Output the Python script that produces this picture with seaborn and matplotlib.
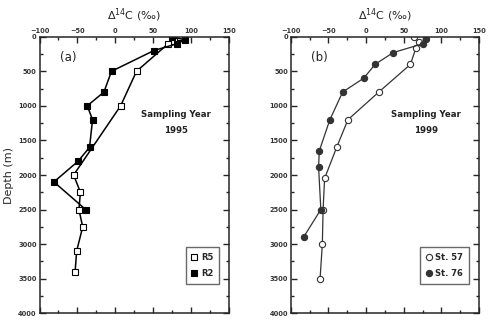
import matplotlib
matplotlib.use("Agg")
import matplotlib.pyplot as plt
import seaborn as sns
import pandas as pd
from matplotlib.ticker import MultipleLocator

# Panel (a), sampling year 1995
r5_d14c = [85, 77, 70, 28, 7, -55, -46, -48, -43, -51, -53]
r5_depth = [0, 60, 100, 500, 1000, 2000, 2250, 2500, 2750, 3100, 3400]
r2_d14c = [75, 92, 82, 51, -5, -15, -37, -30, -34, -49, -81, -39]
r2_depth = [0, 45, 100, 200, 500, 800, 1000, 1200, 1600, 1800, 2100, 2500]

# Panel (b), sampling year 1999
st57_d14c = [64, 70, 66, 59, 17, -24, -39, -55, -57, -58, -61]
st57_depth = [10, 70, 170, 400, 800, 1200, 1600, 2050, 2500, 3000, 3500]
st76_d14c = [80, 76, 36, 12, -3, -31, -48, -62, -63, -60, -83]
st76_depth = [40, 100, 230, 400, 600, 800, 1200, 1650, 1880, 2500, 2900]

sns.set_style("ticks")
plt.rcParams['font.family'] = ['DejaVu Sans']

fig = plt.figure(figsize=(4.94, 3.22), dpi=100)
W, H = 494, 322
ax_a = fig.add_axes([39.5 / W, 1 - 313.3 / H, 189.5 / W, 276.6 / H])
ax_b = fig.add_axes([290.7 / W, 1 - 313.3 / H, 188.3 / W, 276.6 / H])


def draw(ax, x, y, marker, face, edge, lw, label):
    df = pd.DataFrame({'d14c': x, 'depth': y})
    sns.lineplot(data=df, x='d14c', y='depth', sort=False, estimator=None,
                 color=edge, lw=lw, marker=marker, markersize=4.5,
                 markerfacecolor=face, markeredgecolor=edge,
                 markeredgewidth=0.8, ax=ax, label=label, legend=False)


draw(ax_a, r5_d14c, r5_depth, 's', 'white', 'black', 1.1, 'R5')
draw(ax_a, r2_d14c, r2_depth, 's', 'black', 'black', 1.1, 'R2')
draw(ax_b, st57_d14c, st57_depth, 'o', 'white', '#333333', 0.9, 'St. 57')
draw(ax_b, st76_d14c, st76_depth, 'o', '#333333', '#333333', 0.9, 'St. 76')

for ax, tag, year in [(ax_a, '(a)', '1995'), (ax_b, '(b)', '1999')]:
    ax.set_xlim(-100, 150)
    ax.set_ylim(4000, 0)
    ax.xaxis.set_major_locator(MultipleLocator(50))
    ax.xaxis.set_minor_locator(MultipleLocator(25))
    ax.yaxis.set_major_locator(MultipleLocator(500))
    ax.yaxis.set_minor_locator(MultipleLocator(250))
    ax.tick_params(which='both', direction='in', top=True, bottom=True,
                   left=True, right=True, labeltop=True, labelbottom=False,
                   width=1.0, pad=2)
    ax.tick_params(which='major', length=4, labelsize=4.8)
    ax.tick_params(which='minor', length=2.5)
    for lab in ax.get_xticklabels() + ax.get_yticklabels():
        lab.set_fontweight('bold')
        lab.set_color('#333333')
    for sp in ax.spines.values():
        sp.set_linewidth(1.1)
    ax.set_xlabel('')
    ax.set_ylabel('')
    ax.text(0.11, 0.925, tag, transform=ax.transAxes, fontsize=8.5,
            ha='left', va='center', color='#222222')
    ax.text(0.72, 0.72, 'Sampling Year', transform=ax.transAxes,
            fontsize=6.2, fontweight='bold', ha='center', va='center',
            color='#222222')
    ax.text(0.72, 0.66, year, transform=ax.transAxes,
            fontsize=6.2, fontweight='bold', ha='center', va='center',
            color='#222222')
    ax.legend(loc='lower right', bbox_to_anchor=(0.97, 0.09), fontsize=6,
              prop={'weight': 'bold', 'size': 6}, frameon=True, fancybox=False,
              edgecolor='#444444', handlelength=0.6, handletextpad=0.5,
              borderpad=0.7, labelspacing=0.9)

fig.text(134 / W, 1 - 15 / H, r'$\Delta^{14}$C (‰)', ha='center',
         va='center', fontsize=8)
fig.text(385 / W, 1 - 15 / H, r'$\Delta^{14}$C (‰)', ha='center',
         va='center', fontsize=8)
fig.text(9 / W, 1 - 175 / H, 'Depth (m)', rotation=90, ha='center',
         va='center', fontsize=8)

fig.savefig('out.png', dpi=100)
